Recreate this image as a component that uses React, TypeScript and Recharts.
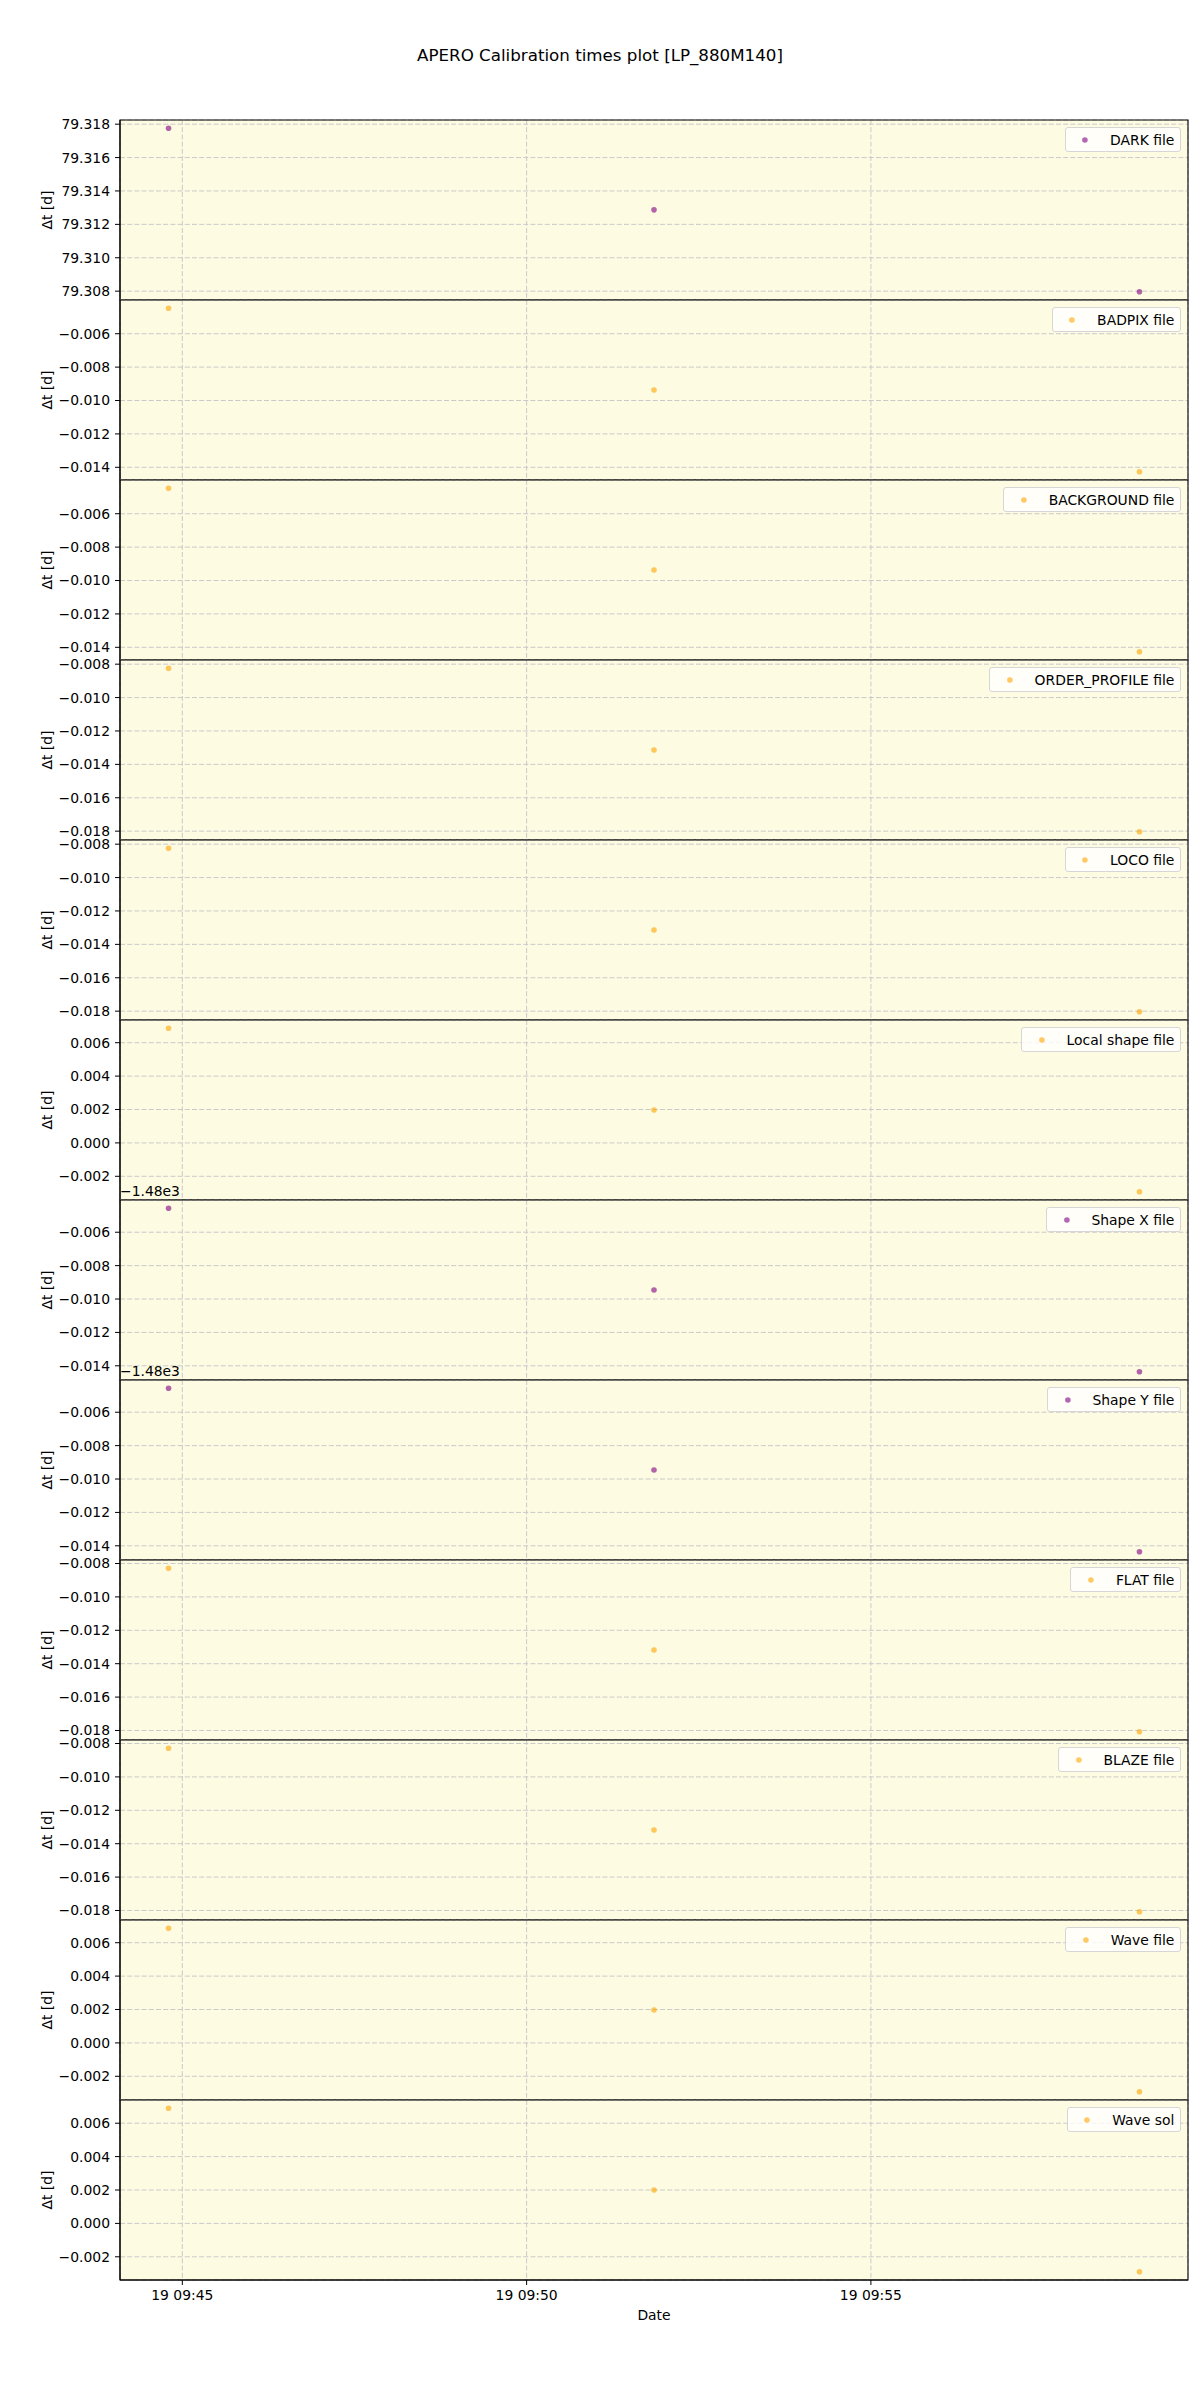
import React from 'react';
import {
  ScatterChart, Scatter, XAxis, YAxis, CartesianGrid, Legend, ReferenceArea, Label
} from 'recharts';

// observation times (19th, UTC) shared by every panel
const TIMES = ['09:44:48', '09:51:51', '09:58:54'];
const X_TICKS = ['09:45:00', '09:50:00', '09:55:00'];
const X_TICK_LABELS = ['19 09:45', '19 09:50', '19 09:55'];

// Δt [d] per calibration file
const DARK = [79.31776, 79.31287, 79.30796];
const BADPIX = [-0.00447, -0.00937, -0.01427];
const BACKGROUND = [-0.00447, -0.00937, -0.01427];
const ORDER_PROFILE = [-0.00824, -0.01314, -0.01804];
const LOCO = [-0.00824, -0.01314, -0.01804];
const LOCAL_SHAPE = [0.00687, 0.00197, -0.00293];
const SHAPE_X = [-1480.00456, -1480.00946, -1480.01436];
const SHAPE_Y = [-1480.00456, -1480.00946, -1480.01436];
const FLAT = [-0.00828, -0.01318, -0.01808];
const BLAZE = [-0.00828, -0.01318, -0.01808];
const WAVE_FILE = [0.00687, 0.00197, -0.00293];
const WAVE_SOL = [0.00690, 0.00200, -0.00290];

// y tick values
const TICKS_DARK = [79.308, 79.31, 79.312, 79.314, 79.316, 79.318];
const TICKS_SHORT = [-0.014, -0.012, -0.01, -0.008, -0.006];
const TICKS_LONG = [-0.018, -0.016, -0.014, -0.012, -0.01, -0.008];
const TICKS_POS = [-0.002, 0, 0.002, 0.004, 0.006];

const PURPLE = '#800080';
const ORANGE = '#ffa500';
const BG = '#fdfbe2';
const GRID = '#cacaca';
const FONT = '"DejaVu Sans", sans-serif';

const PANELS = [
  { name: 'DARK file', values: DARK, ticks: TICKS_DARK, color: PURPLE, offset: 0 },
  { name: 'BADPIX file', values: BADPIX, ticks: TICKS_SHORT, color: ORANGE, offset: 0 },
  { name: 'BACKGROUND file', values: BACKGROUND, ticks: TICKS_SHORT, color: ORANGE, offset: 0 },
  { name: 'ORDER_PROFILE file', values: ORDER_PROFILE, ticks: TICKS_LONG, color: ORANGE, offset: 0 },
  { name: 'LOCO file', values: LOCO, ticks: TICKS_LONG, color: ORANGE, offset: 0 },
  { name: 'Local shape file', values: LOCAL_SHAPE, ticks: TICKS_POS, color: ORANGE, offset: 0 },
  { name: 'Shape X file', values: SHAPE_X, ticks: TICKS_SHORT, color: PURPLE, offset: -1480 },
  { name: 'Shape Y file', values: SHAPE_Y, ticks: TICKS_SHORT, color: PURPLE, offset: -1480 },
  { name: 'FLAT file', values: FLAT, ticks: TICKS_LONG, color: ORANGE, offset: 0 },
  { name: 'BLAZE file', values: BLAZE, ticks: TICKS_LONG, color: ORANGE, offset: 0 },
  { name: 'Wave file', values: WAVE_FILE, ticks: TICKS_POS, color: ORANGE, offset: 0 },
  { name: 'Wave sol', values: WAVE_SOL, ticks: TICKS_POS, color: ORANGE, offset: 0 },
];

// seconds relative to 09:45:00
const toSec = (t: string) => {
  const [h, m, s] = t.split(':').map(Number);
  return h * 3600 + m * 60 + s - (9 * 3600 + 45 * 60);
};

const xs = TIMES.map(toSec);
const xPad = (Math.max(...xs) - Math.min(...xs)) * 0.05;
const X_DOMAIN: [number, number] = [Math.min(...xs) - xPad, Math.max(...xs) + xPad];
const X_TICK_SECS = X_TICKS.map(toSec);

const PAD = 20;
const TOP = 120;
const PANEL_H = 180;
const LEFT = 120;
const RIGHT_GAP = 12;
const WIDTH = 1200;
const FS = 13.9;

const fmtY = (v: number) => {
  const s = Math.abs(v) < 1e-12 ? '0.000' : v.toFixed(3);
  return s.replace('-', '\u2212');
};
const fmtX = (v: number) => {
  const i = X_TICK_SECS.findIndex((t) => Math.abs(t - v) < 1e-6);
  return i >= 0 ? X_TICK_LABELS[i] : '';
};

const Dot = (color: string) => (props: any) => (
  <circle cx={props.cx} cy={props.cy} r={2.8} fill={color} fillOpacity={0.6} />
);

const LegendBox = ({ name, color }: { name: string; color: string }) => (
  <div
    style={{
      display: 'flex', alignItems: 'center', background: 'rgba(255,255,255,0.8)',
      border: '1px solid #d6d6d6', borderRadius: 3, padding: '0 5.6px', height: 25,
      boxSizing: 'border-box', fontFamily: FONT, fontSize: FS, color: '#000', whiteSpace: 'nowrap',
    }}
  >
    <svg width={27.8} height={10} style={{ marginRight: 11.1 }}>
      <circle cx={13.9} cy={5} r={2.8} fill={color} fillOpacity={0.6} />
    </svg>
    <span>{name}</span>
  </div>
);

const Panel = ({ panel, index, last }: { panel: any; index: number; last: boolean }) => {
  const data = TIMES.map((t, i) => ({ x: toSec(t), y: panel.values[i] - panel.offset }));
  const ys = data.map((d) => d.y);
  const lo = Math.min(...ys);
  const hi = Math.max(...ys);
  const m = (hi - lo) * 0.05;
  const yDomain: [number, number] = [lo - m, hi + m];
  const bottomH = last ? 60 : 0;
  const height = PAD + PANEL_H + bottomH + (last ? 0 : PAD);

  const yLabel = (p: any) => {
    const vb = p.viewBox;
    const cx = vb.x + 47;
    const cy = vb.y + vb.height / 2;
    return (
      <g>
        <text x={cx} y={cy} transform={`rotate(-90 ${cx} ${cy})`} textAnchor="middle"
          dominantBaseline="central" fontSize={FS} fill="#000">
          Δt [d]
        </text>
        {panel.offset !== 0 && (
          <text x={vb.x + vb.width} y={vb.y - 4} fontSize={FS} fill="#000">
            {'\u22121.48e3'}
          </text>
        )}
      </g>
    );
  };

  const xLabel = (p: any) => {
    const vb = p.viewBox;
    return (
      <text x={vb.x + vb.width / 2} y={vb.y + 35} textAnchor="middle" dominantBaseline="central"
        fontSize={FS} fill="#000">
        Date
      </text>
    );
  };

  return (
    <div style={{ position: 'absolute', left: 0, top: TOP + index * PANEL_H - PAD }}>
      <ScatterChart
        width={WIDTH}
        height={height}
        margin={{ top: PAD, right: RIGHT_GAP, bottom: last ? 0 : PAD, left: 0 }}
      >
        <CartesianGrid stroke={GRID} strokeDasharray="5 2.2" fill={BG} fillOpacity={1} />
        <XAxis
          type="number"
          dataKey="x"
          domain={X_DOMAIN}
          ticks={X_TICK_SECS}
          allowDataOverflow
          hide={!last}
          height={bottomH}
          tickFormatter={fmtX}
          tickSize={5}
          tickMargin={5}
          stroke="#000"
          tick={{ fill: '#000', fontSize: FS }}
        >
          {last && <Label content={xLabel} />}
        </XAxis>
        <YAxis
          type="number"
          dataKey="y"
          domain={yDomain}
          ticks={panel.ticks}
          interval={0}
          allowDataOverflow
          width={LEFT}
          tickFormatter={fmtY}
          tickSize={5}
          tickMargin={5}
          stroke="#000"
          tick={{ fill: '#000', fontSize: FS }}
        >
          <Label content={yLabel} />
        </YAxis>
        <ReferenceArea
          x1={X_DOMAIN[0]}
          x2={X_DOMAIN[1]}
          y1={yDomain[0]}
          y2={yDomain[1]}
          fill="none"
          stroke="#000"
          strokeWidth={1.1}
          ifOverflow="visible"
        />
        <Scatter data={data} isAnimationActive={false} shape={Dot(panel.color)} />
        <Legend
          layout="vertical"
          align="center"
          verticalAlign="middle"
          content={() => <LegendBox name={panel.name} color={panel.color} />}
          wrapperStyle={{ top: PAD + 7, right: RIGHT_GAP + 7, left: 'auto', width: 'auto', height: 'auto' }}
        />
      </ScatterChart>
    </div>
  );
};

export default function App() {
  return (
    <div
      style={{
        position: 'absolute', left: 0, top: 0, width: WIDTH, height: 2400,
        background: '#fff', fontFamily: FONT,
      }}
    >
      <div
        style={{
          position: 'absolute', top: 45, left: 0, width: WIDTH, textAlign: 'center',
          fontSize: 16.7, lineHeight: '20px', color: '#000',
        }}
      >
        APERO Calibration times plot [LP_880M140]
      </div>
      {PANELS.map((p, i) => (
        <Panel key={p.name} panel={p} index={i} last={i === PANELS.length - 1} />
      ))}
    </div>
  );
}
